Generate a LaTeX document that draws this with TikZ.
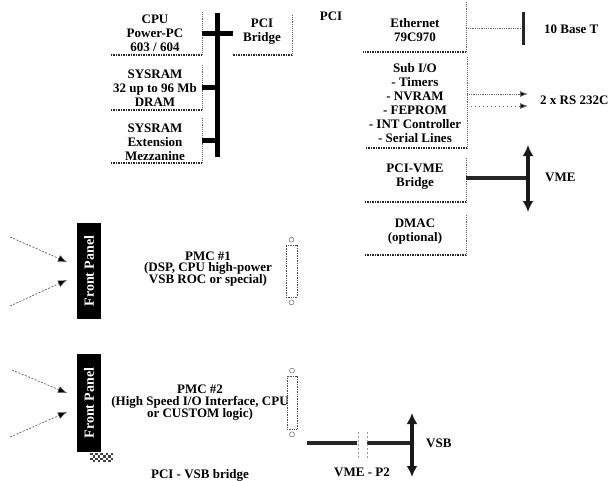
\documentclass[tikz,border=0pt]{standalone}
\usepackage{fontspec}
\setmainfont{Liberation Serif}
\usetikzlibrary{arrows.meta,calc}
\newcommand{\tightlines}{\lineskiplimit=-20pt\relax\lineskip=0pt\relax}
\begin{document}
\begin{tikzpicture}[x=1pt,y=-1pt,
 txt/.style={font=\bfseries\fontsize{13}{14}\selectfont, align=center, inner sep=0pt},
 pmctxt/.style={font=\bfseries\fontsize{13}{11.8}\selectfont\tightlines, align=center, inner sep=0pt},
 frame/.style={inner sep=0pt, draw=none},
 redge/.style={draw=black!60, densely dotted, line width=0.9pt},
 bedge/.style={draw=black!85, densely dotted, line width=1.5pt},
 bus/.style={line width=5pt, black},
 thickline/.style={line width=3.2pt, black!85},
 dblarrow/.style={line width=3.5pt, black!90, {Latex[length=11pt,width=11pt]}-{Latex[length=11pt,width=11pt]}},
 dotline/.style={black!60, densely dotted, line width=0.8pt},
 sigarrow/.style={black!60, densely dotted, line width=0.8pt, -{Latex[length=8pt,width=6pt,fill=black]}},
 fparrow/.style={black!70, dashed, dash pattern=on 2pt off 1.5pt, line width=0.6pt, -{Latex[length=9pt,width=7pt,fill=black]}},
 fpanel/.style={fill=black, text=white, inner sep=0pt, font=\bfseries\fontsize{14}{14}\selectfont},
 conn/.style={draw=black!70, densely dotted, line width=0.7pt, inner sep=0pt},
 pin/.style={circle, draw=black!60, line width=0.5pt, inner sep=0pt, minimum size=5pt},
 p2mark/.style={black!40, dashed, dash pattern=on 2pt off 2pt, line width=0.6pt}
]
\useasboundingbox (0,0) rectangle (611,480);

% ---- left group: CPU, SYSRAM, Extension ----
\node[frame, minimum width=92pt, minimum height=43pt] (cpu) at (156,33.5) {};
\node[txt] (cput) at (155,33) {CPU\\Power-PC\\603 / 604};
\node[frame, minimum width=92pt, minimum height=45pt] (sysram) at (156,87.5) {};
\node[txt] (sysramt) at (155,88) {SYSRAM\\32 up to 96 Mb\\DRAM};
\node[frame, minimum width=92pt, minimum height=45pt] (ext) at (156,140.5) {};
\node[txt] (extt) at (155,142) {SYSRAM\\Extension\\Mezzanine};
\node[frame, minimum width=59pt, minimum height=40pt] (bridge) at (262.5,35) {};
\node[txt] (bridget) at (262,32) {PCI\\Bridge};

\foreach \n in {cpu,sysram,ext,bridge}{
  \draw[redge] (\n.north east) -- (\n.south east);
  \draw[bedge] (\n.south east) -- (\n.south west);
}

% local bus
\coordinate (bustop) at (217,13);
\coordinate (busbot) at (217,157);
\draw[bus] (bustop) -- (busbot);
\draw[bus] (cpu.east) -- (cpu.east -| bridge.west);
\draw[bus] (sysram.east) -- (sysram.east -| bustop);
\draw[bus] (ext.east) -- (ext.east -| bustop);

% ---- right group ----
\node[txt] (pcilbl) at (331,16) {PCI};
\node[frame, minimum width=103pt, minimum height=50pt] (eth) at (414.5,27) {};
\node[txt] (etht) at (415,30) {Ethernet\\79C970};
\node[frame, minimum width=102pt, minimum height=91pt] (subio) at (416,102.5) {};
\node[txt] (subiot) at (415,103) {Sub I/O\\- Timers\\- NVRAM\\- FEPROM\\- INT Controller\\- Serial Lines};
\node[frame, minimum width=101pt, minimum height=44pt] (pcivme) at (415.5,180) {};
\node[txt] (pcivmet) at (415,177) {PCI-VME\\Bridge};
\node[frame, minimum width=101pt, minimum height=40pt] (dmac) at (415.5,235) {};
\node[txt] (dmact) at (415,232) {DMAC\\(optional)};

\foreach \n in {eth,subio,pcivme,dmac}{
  \draw[redge] (\n.north east) -- (\n.south east);
  \draw[bedge] (\n.south east) -- (\n.south west);
}

% Ethernet -> 10 Base T
\node[fill=black!85, inner sep=0pt, minimum width=3pt, minimum height=33pt] (tbar) at (523,28.5) {};
\draw[dotline] (eth.east |- tbar) -- (tbar.west);
\node[txt, anchor=west] (tbaset) at (544,29) {10 Base T};

% Sub I/O -> RS232
\node[txt, anchor=west] (rs) at (540,100) {2 x RS 232C};
\coordinate (rs1) at (528,94);
\coordinate (rs2) at (528,106);
\draw[sigarrow] (subio.east |- rs1) -- (rs1);
\draw[sigarrow, dash pattern=on 1pt off 3pt] (subio.east |- rs2) -- (rs2);

% PCI-VME -> VME
\coordinate (vmetop) at (528,145);
\coordinate (vmebot) at (528,212);
\draw[thickline] (pcivme.east |- 0,178) -- (vmetop |- 0,178);
\draw[dblarrow] (vmetop) -- (vmebot);
\node[txt, anchor=west] (vmet) at (545,177) {VME};

% ---- PMC #1 ----
\node[fpanel, rotate=90, minimum width=96pt, minimum height=24pt] (fp1) at (89,271) {Front Panel};
\coordinate (f1a) at (10,237);
\coordinate (f1b) at (10,306);
\draw[fparrow] (f1a) -- ($(fp1.center)+(-22,-9)$);
\draw[fparrow] (f1b) -- ($(fp1.center)+(-22,9)$);
\node[pmctxt] (pmc1) at (208,269) {PMC \#1\\(DSP, CPU high-power\\VSB ROC or special)};
\node[conn, minimum width=11pt, minimum height=52pt] (c1) at (291.5,271) {};
\node[pin] (c1t) at ($(c1.north)+(0,-5)$) {};
\node[pin] (c1b) at ($(c1.south)+(0,5)$) {};

% ---- PMC #2 ----
\node[fpanel, rotate=90, minimum width=98pt, minimum height=24pt] (fp2) at (89,403) {Front Panel};
\coordinate (f2a) at (12,370);
\coordinate (f2b) at (10,437);
\draw[fparrow] (f2a) -- ($(fp2.center)+(-22,-10)$);
\draw[fparrow] (f2b) -- ($(fp2.center)+(-22,9)$);
\foreach \i in {0,...,8}{
  \foreach \j in {0,...,3}{
    \pgfmathtruncatemacro\chk{mod(\i+\j,2)}
    \ifnum\chk=0 \fill[black!75] (90+\i*2.6,453+\j*2.3) rectangle ++(2.6,2.3); \fi
  }
}
\node[pmctxt] (pmc2) at (200,402.5) {PMC \#2\\(High Speed I/O Interface, CPU\\or CUSTOM logic)};
\node[conn, minimum width=10pt, minimum height=53pt] (c2) at (292,402.5) {};
\node[pin] (c2t) at ($(c2.north)+(0,-5)$) {};
\node[pin] (c2b) at ($(c2.south)+(0,5)$) {};
\node[txt] (pcivsb) at (200,475) {PCI - VSB bridge};

% ---- VME - P2 / VSB ----
\coordinate (p2a) at (307,443);
\coordinate (p2b) at (357,443);
\coordinate (p2c) at (367,443);
\coordinate (vsbtop) at (412,413);
\coordinate (vsbbot) at (412,477);
\draw[thickline] (p2a) -- (p2b);
\draw[thickline] (p2c) -- (p2c -| vsbtop);
\draw[p2mark] ($(p2b)+(1,-11)$) -- ($(p2b)+(1,17)$);
\draw[p2mark] ($(p2c)+(0,-11)$) -- ($(p2c)+(0,17)$);
\draw[dblarrow] (vsbtop) -- (vsbbot);
\node[txt, anchor=west] (vsbt) at (426,443) {VSB};
\node[txt] (p2t) at (362,472) {VME - P2};
\end{tikzpicture}
\end{document}
